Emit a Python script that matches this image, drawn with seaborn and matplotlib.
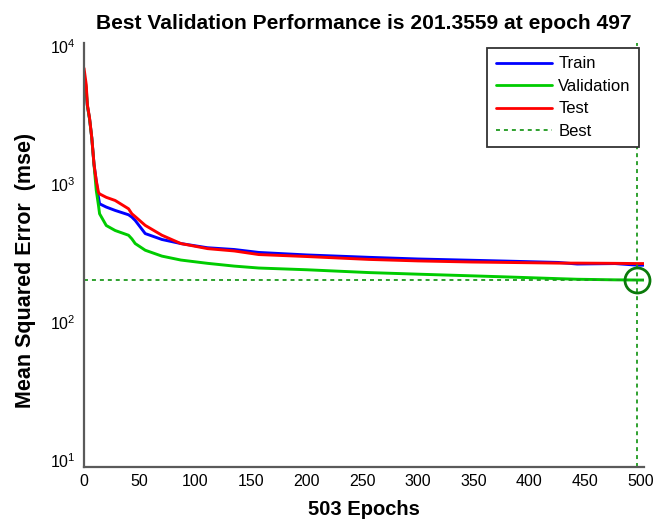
import matplotlib
matplotlib.use("Agg")
import matplotlib.pyplot as plt
from matplotlib.lines import Line2D
from matplotlib.ticker import FixedLocator, FixedFormatter, LogLocator, NullFormatter
import seaborn as sns
import pandas as pd
import numpy as np

# ---------------- data ----------------
epochs = [0, 2, 3, 5, 7, 9, 11, 13, 14, 20, 28, 40, 43, 46, 55, 70, 87, 111,
          135, 157, 200, 256, 300, 348, 380, 426, 443, 477, 497, 503]
train = [5500, 4600, 3700, 2950, 2150, 1380, 1050, 800, 718, 680, 643, 598,
         575, 544, 437, 396, 370, 345, 335, 319, 306, 294, 286, 280, 276, 270,
         263, 265, 258, 258]
validation = [6000, 5000, 3700, 2950, 2150, 1380, 900, 700, 608, 500, 460,
              425, 400, 370, 331, 300, 281, 266, 254, 246, 239, 228, 222, 216,
              212, 206, 204, 202, 201.3559, 201.3]
test = [6900, 5250, 3770, 3000, 2160, 1390, 1060, 870, 847, 800, 759, 661,
        608, 580, 501, 425, 370, 340, 327, 308, 298, 284, 277, 272, 270, 267,
        267, 266, 265, 265]

series_names = ["Train", "Validation", "Test"]
best_epoch = 497
best_value = 201.3559
n_epochs = 503

x_ticks = [0, 50, 100, 150, 200, 250, 300, 350, 400, 450, 500]
y_ticks = [10, 100, 1000, 10000]
y_tick_labels = [r"$10^{1}$", r"$10^{2}$", r"$10^{3}$", r"$10^{4}$"]

title = "Best Validation Performance is 201.3559 at epoch 497"
xlabel = "503 Epochs"
ylabel = "Mean Squared Error  (mse)"

# ---------------- style ----------------
sns.set_style("white")
plt.rcParams["font.family"] = ["Liberation Sans", "DejaVu Sans"]
plt.rcParams["mathtext.fontset"] = "custom"
plt.rcParams["mathtext.rm"] = "Liberation Sans"
plt.rcParams["mathtext.it"] = "Liberation Sans"
plt.rcParams["mathtext.bf"] = "Liberation Sans:bold"
plt.rcParams["text.color"] = "black"
plt.rcParams["axes.labelcolor"] = "black"
plt.rcParams["xtick.color"] = "black"
plt.rcParams["ytick.color"] = "black"

colors = {"Train": "#0000ff", "Validation": "#00cc00", "Test": "#ff0000"}
best_color = "#1f9a1f"
circle_color = "#0a7a0a"
spine_color = "#5a5a5a"

df = pd.concat([
    pd.DataFrame({"epoch": epochs, "mse": train, "series": "Train"}),
    pd.DataFrame({"epoch": epochs, "mse": validation, "series": "Validation"}),
    pd.DataFrame({"epoch": epochs, "mse": test, "series": "Test"}),
], ignore_index=True)

W, H = 669, 523
fig = plt.figure(figsize=(W / 100, H / 100), dpi=100)
ax_left, ax_right, ax_top, ax_bottom = 84, 644, 43, 467
ax = fig.add_axes([ax_left / W, 1 - ax_bottom / H, (ax_right - ax_left) / W,
                   (ax_bottom - ax_top) / H])

sns.lineplot(data=df, x="epoch", y="mse", hue="series", hue_order=series_names,
             palette=colors, estimator=None, sort=False, linewidth=2.1,
             legend=False, ax=ax)

ax.set_yscale("log")
ax.set_xlim(0, n_epochs)
ax.set_ylim(8.9, 10500)

ax.axhline(best_value, color=best_color, linestyle=(0, (2.2, 2.2)), linewidth=1.3)
ax.axvline(best_epoch, color=best_color, linestyle=(0, (2.2, 2.2)), linewidth=1.3)
ax.plot([best_epoch], [best_value], marker="o", markersize=18, fillstyle="none",
        markeredgewidth=2.0, color=circle_color, linestyle="none", clip_on=False,
        zorder=5)

# ticks
ax.xaxis.set_major_locator(FixedLocator(x_ticks))
ax.yaxis.set_major_locator(FixedLocator(y_ticks))
ax.yaxis.set_major_formatter(FixedFormatter(y_tick_labels))
ax.yaxis.set_minor_locator(LogLocator(base=10, subs=np.arange(2, 10), numticks=20))
ax.yaxis.set_minor_formatter(NullFormatter())
ax.tick_params(axis="both", which="major", direction="in", length=5, width=1.2,
               color=spine_color, labelcolor="black", labelsize=11.5, pad=5)
ax.tick_params(axis="y", which="minor", direction="in", length=3, width=1.0,
               color=spine_color)
ax.tick_params(axis="y", which="major", pad=6)

for side in ["top", "right"]:
    ax.spines[side].set_visible(False)
for side in ["left", "bottom"]:
    ax.spines[side].set_color(spine_color)
    ax.spines[side].set_linewidth(1.6)

ax.set_title(title, fontsize=15.1, fontweight="bold", pad=10, color="black")
ax.set_xlabel(xlabel, fontsize=14.5, fontweight="bold", color="black")
ax.set_ylabel(ylabel, fontsize=15.5, fontweight="bold", color="black")
ax.xaxis.set_label_coords(0.5, -(500 - ax_bottom) / (ax_bottom - ax_top))
ax.yaxis.set_label_coords(-(ax_left - 36) / (ax_right - ax_left),
                          (ax_bottom - 270) / (ax_bottom - ax_top))

handles = [
    Line2D([], [], color=colors["Train"], linewidth=2.0),
    Line2D([], [], color=colors["Validation"], linewidth=2.0),
    Line2D([], [], color=colors["Test"], linewidth=2.0),
    Line2D([], [], color=best_color, linewidth=1.3, linestyle=(0, (2.2, 2.2))),
]
leg = ax.legend(handles, ["Train", "Validation", "Test", "Best"],
                loc="upper right", bbox_to_anchor=(0.991, 0.988),
                borderaxespad=0, fancybox=False, framealpha=1,
                edgecolor="#333333", fontsize=12, handlelength=3.4,
                handletextpad=0.35, labelspacing=0.45, borderpad=0.5)
leg.get_frame().set_linewidth(1.3)
for t in leg.get_texts():
    t.set_color("black")

fig.savefig("out.png", dpi=100)
